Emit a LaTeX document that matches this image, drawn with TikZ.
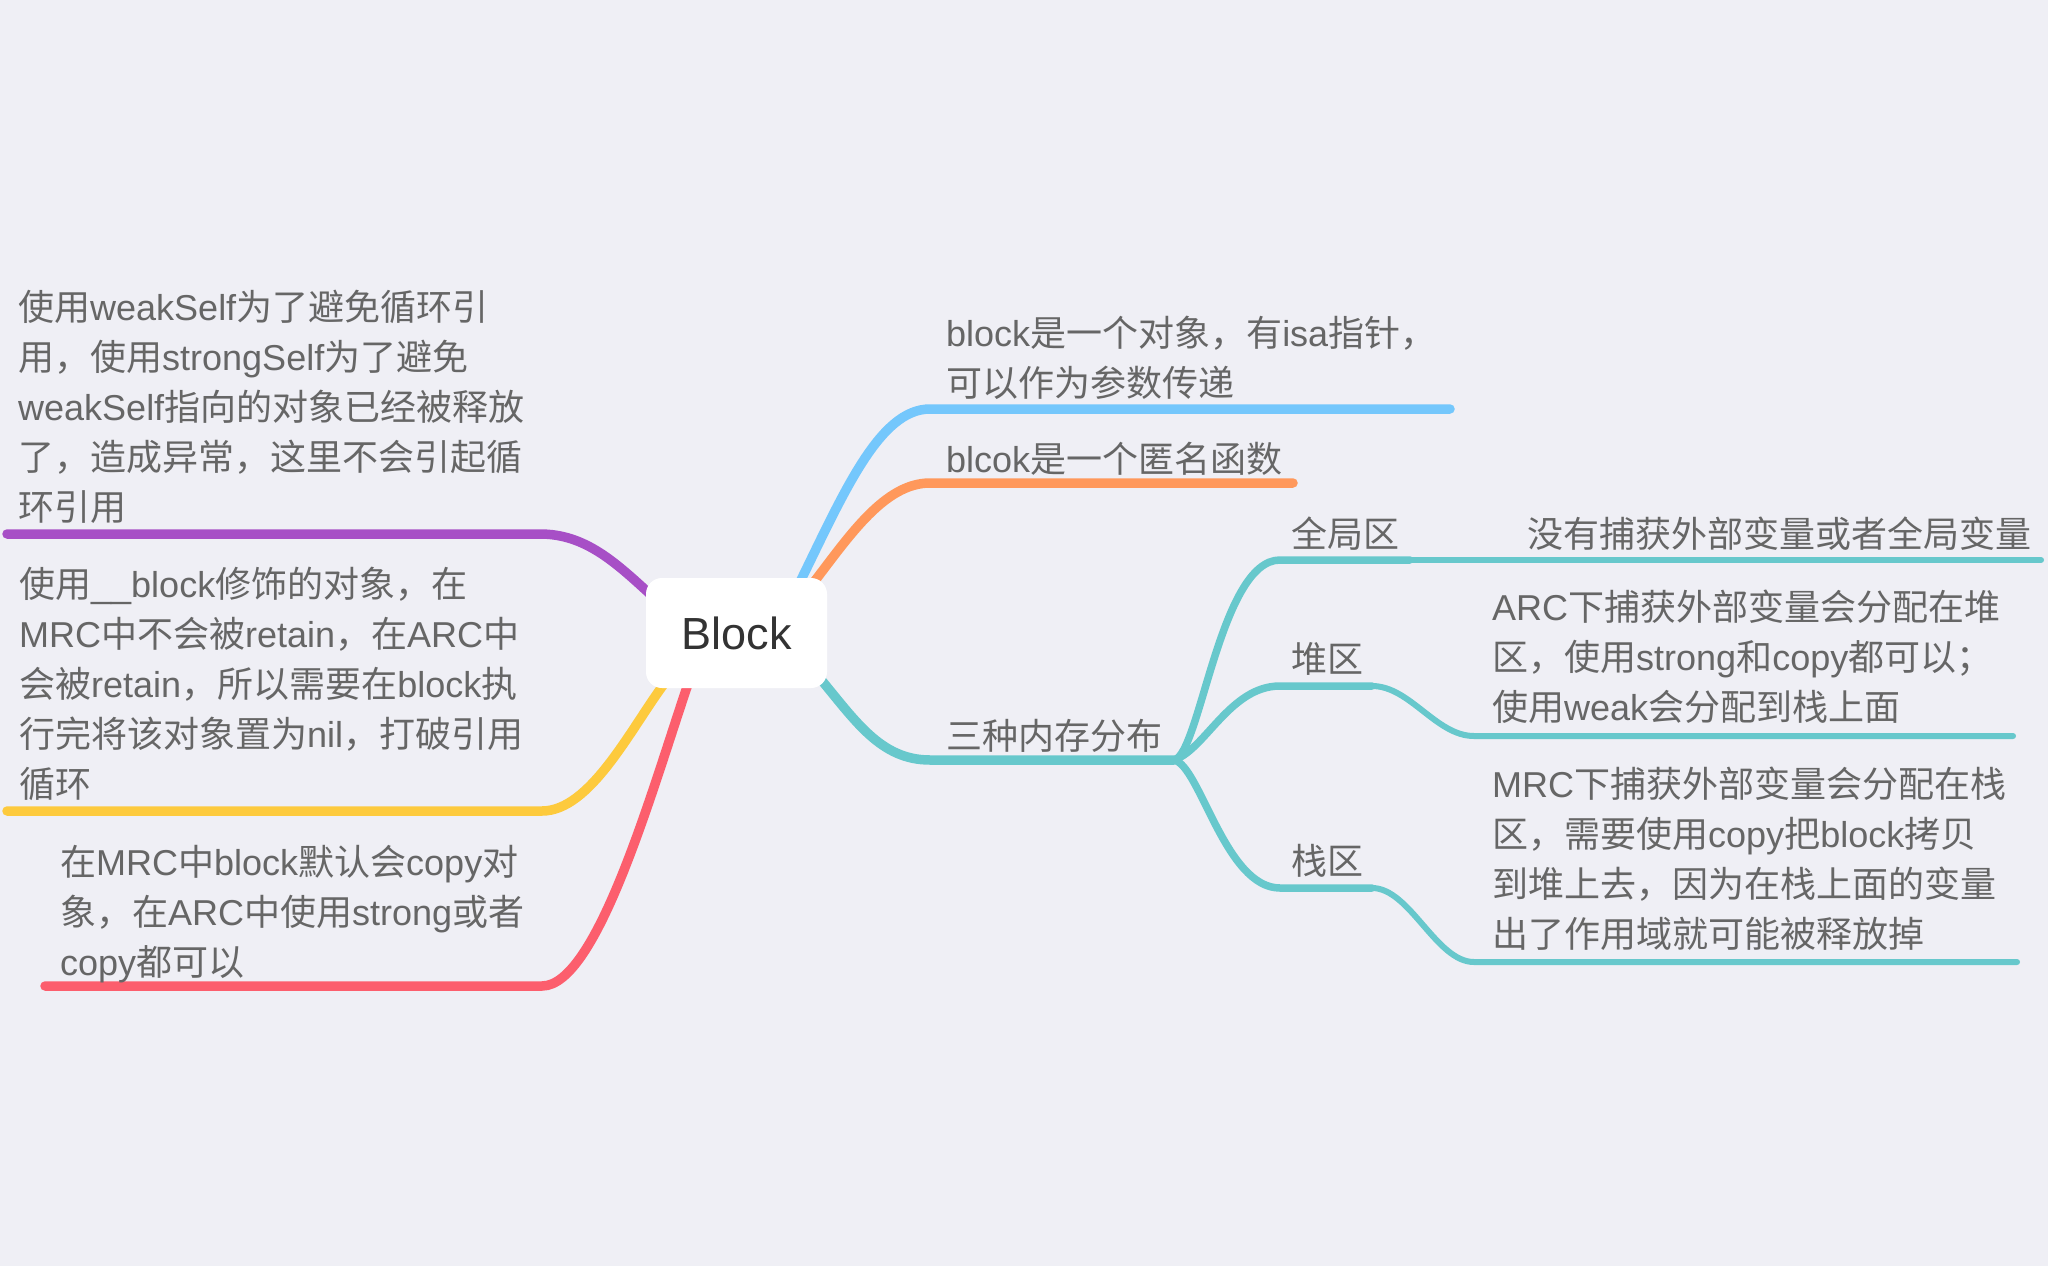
\documentclass[tikz,border=0pt]{standalone}
\usepackage{fontspec}
\setmainfont{Noto Sans CJK SC}
\newfontfamily\enfont{Liberation Sans}
\newcommand\en[1]{{\enfont #1}}
\definecolor{cbg}{HTML}{EFEFF5}
\definecolor{ctext}{HTML}{666666}
\definecolor{cblock}{HTML}{333333}
\definecolor{cpurple}{HTML}{A74FC6}
\definecolor{cyellow}{HTML}{FDCA3D}
\definecolor{cred}{HTML}{FC5E6D}
\definecolor{cblue}{HTML}{74C7FC}
\definecolor{corange}{HTML}{FF985B}
\definecolor{cteal}{HTML}{67C8CC}
\begin{document}
\begin{tikzpicture}[x=1pt,y=-1pt,
  br/.style={line width=9.5pt, line cap=round},
  subbr/.style={line width=7.5pt, line cap=round, draw=cteal},
  leafbr/.style={line width=6pt, line cap=round, draw=cteal},
  txt/.style={anchor=base west, inner sep=0pt, align=left, font=\fontsize{36}{50}\selectfont, text=ctext},
  rootbox/.style={fill=white, rounded corners=16pt, minimum width=181pt, minimum height=110pt, inner sep=0pt, font=\enfont\fontsize{45}{54}\selectfont, text=cblock}]
\fill[cbg] (0,0) rectangle (2048,1266);
\useasboundingbox (0,0) rectangle (2048,1266);

% coordinates
\coordinate (rP) at (650,594);
\coordinate (pP) at (540,534);
\coordinate (eP) at (7,534);
\coordinate (rY) at (664,684);
\coordinate (pY) at (542,811);
\coordinate (eY) at (7,811);
\coordinate (rR) at (688,684);
\coordinate (pR) at (542,986);
\coordinate (eR) at (45,986);
\coordinate (rB) at (800,582);
\coordinate (pB) at (930,409);
\coordinate (eB) at (1450,409);
\coordinate (rO) at (814,582);
\coordinate (pO) at (930,483);
\coordinate (eO) at (1293,483);
\coordinate (rT) at (818,676);
\coordinate (pT) at (930,760);
\coordinate (fk) at (1174,760);
\coordinate (g1) at (1280,560);
\coordinate (g2) at (1410,560);
\coordinate (g3) at (2041,560);
\coordinate (h1) at (1280,686);
\coordinate (h2) at (1372,686);
\coordinate (h3) at (1474,736);
\coordinate (h4) at (2013,736);
\coordinate (s1) at (1280,888);
\coordinate (s2) at (1372,888);
\coordinate (s3) at (1474,962);
\coordinate (s4) at (2017,962);

% main branches
\draw[br, draw=cpurple] (rP) .. controls (615,562) and (585,534) .. (pP) -- (eP);
\draw[br, draw=cyellow] (rY) .. controls (630,730) and (590,811) .. (pY) -- (eY);
\draw[br, draw=cred] (rR) .. controls (652,790) and (597,986) .. (pR) -- (eR);
\draw[br, draw=cblue] (rB) .. controls (845,490) and (880,409) .. (pB) -- (eB);
\draw[br, draw=corange] (rO) .. controls (850,535) and (885,483) .. (pO) -- (eO);
\draw[br, draw=cteal] (rT) .. controls (855,720) and (880,760) .. (pT) -- (fk);

% sub branches
\draw[subbr] (fk) .. controls (1200,755) and (1220,560) .. (g1) -- (g2);
\draw[leafbr] (g2) -- (g3);
\draw[subbr] (fk) .. controls (1205,750) and (1230,686) .. (h1) -- (h2);
\draw[leafbr] (h2) .. controls (1410,686) and (1436,736) .. (h3) -- (h4);
\draw[subbr] (fk) .. controls (1200,765) and (1225,888) .. (s1) -- (s2);
\draw[leafbr] (s2) .. controls (1410,888) and (1436,962) .. (s3) -- (s4);

% root
\node[rootbox] (root) at (736.5,633) {Block};

% texts (multi-line nodes: base = last line)
\node[txt] (tP) at (18,520) {使用\en{weakSelf}为了避免循环引\\用，使用\en{strongSelf}为了避免\\\en{weakSelf}指向的对象已经被释放\\了，造成异常，这里不会引起循\\环引用};
\node[txt] (tY) at (19,797) {使用\en{\_\_block}修饰的对象，在\\\en{MRC}中不会被\en{retain}，在\en{ARC}中\\会被\en{retain}，所以需要在\en{block}执\\行完将该对象置为\en{nil}，打破引用\\循环};
\node[txt] (tR) at (60,975) {在\en{MRC}中\en{block}默认会\en{copy}对\\象，在\en{ARC}中使用\en{strong}或者\\\en{copy}都可以};
\node[txt] (tB) at (946,396) {\en{block}是一个对象，有\en{isa}指针，\\可以作为参数传递};
\node[txt] (tO) at (946,472) {\en{blcok}是一个匿名函数};
\node[txt] (tT) at (946,749) {三种内存分布};
\node[txt] (tG) at (1291,547) {全局区};
\node[txt] (tH) at (1291,672) {堆区};
\node[txt] (tS) at (1291,874) {栈区};
\node[txt] (lG) at (1527,547) {没有捕获外部变量或者全局变量};
\node[txt] (lH) at (1492,720) {\en{ARC}下捕获外部变量会分配在堆\\区，使用\en{strong}和\en{copy}都可以；\\使用\en{weak}会分配到栈上面};
\node[txt] (lS) at (1492,947) {\en{MRC}下捕获外部变量会分配在栈\\区，需要使用\en{copy}把\en{block}拷贝\\到堆上去，因为在栈上面的变量\\出了作用域就可能被释放掉};
\end{tikzpicture}
\end{document}
